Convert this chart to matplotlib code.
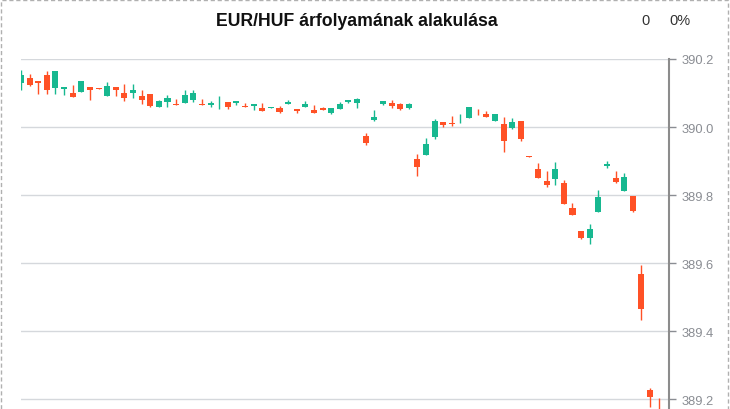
import numpy as np
import matplotlib
matplotlib.use('Agg')
import matplotlib.pyplot as plt
from matplotlib.patches import Rectangle

plt.rcParams['font.family'] = ['Liberation Sans', 'DejaVu Sans']

# OHLC adatok
opens = [390.130, 390.145, 390.136, 390.154, 390.114, 390.111, 390.101, 390.102, 390.119, 390.116,
         390.092, 390.119, 390.099, 390.099, 390.090, 390.098, 390.058, 390.075, 390.069, 390.072,
         390.081, 390.069, 390.065, 390.066, 390.074, 390.072, 390.063, 390.061, 390.057, 390.056,
         390.057, 390.068, 390.054, 390.058, 390.051, 390.057, 390.042, 390.054, 390.075, 390.072,
         389.974, 390.022, 390.069, 390.072, 390.069, 390.055, 389.907, 389.917, 389.972, 390.016,
         390.013, 390.013, 390.028, 390.039, 390.037, 390.019, 390.008, 389.998, 390.019, 389.916,
         389.877, 389.842, 389.848, 389.836, 389.763, 389.695, 389.674, 389.751, 389.887, 389.851,
         389.813, 389.798, 389.569, 389.227, 389.205]
highs = [390.169, 390.157, 390.136, 390.166, 390.164, 390.119, 390.124, 390.136, 390.119, 390.116,
         390.132, 390.119, 390.127, 390.127, 390.108, 390.098, 390.081, 390.095, 390.083, 390.108,
         390.108, 390.083, 390.078, 390.090, 390.074, 390.077, 390.072, 390.067, 390.072, 390.060,
         390.062, 390.080, 390.054, 390.077, 390.066, 390.060, 390.055, 390.074, 390.080, 390.086,
         389.983, 390.051, 390.077, 390.080, 390.072, 390.072, 389.922, 389.969, 390.024, 390.016,
         390.033, 390.039, 390.060, 390.054, 390.048, 390.037, 390.030, 390.028, 390.019, 389.916,
         389.895, 389.872, 389.898, 389.845, 389.777, 389.695, 389.716, 389.816, 389.901, 389.872,
         389.866, 389.798, 389.596, 389.233, 389.205]
lows = [390.110, 390.121, 390.098, 390.096, 390.096, 390.095, 390.087, 390.102, 390.080, 390.111,
        390.090, 390.091, 390.077, 390.084, 390.069, 390.060, 390.058, 390.058, 390.064, 390.072,
        390.075, 390.064, 390.060, 390.053, 390.054, 390.064, 390.058, 390.049, 390.046, 390.056,
        390.042, 390.068, 390.042, 390.058, 390.042, 390.049, 390.037, 390.052, 390.072, 390.057,
        389.948, 390.019, 390.064, 390.055, 390.049, 390.052, 389.855, 389.917, 389.964, 389.999,
        390.002, 390.011, 390.028, 390.036, 390.031, 390.019, 389.928, 389.995, 389.958, 389.911,
        389.851, 389.825, 389.830, 389.775, 389.743, 389.672, 389.657, 389.751, 389.880, 389.836,
        389.813, 389.751, 389.434, 389.178, 389.150]
closes = [390.152, 390.125, 390.129, 390.108, 390.164, 390.119, 390.087, 390.136, 390.108, 390.111,
          390.121, 390.108, 390.086, 390.108, 390.081, 390.063, 390.077, 390.084, 390.064, 390.095,
          390.101, 390.064, 390.072, 390.066, 390.058, 390.077, 390.058, 390.067, 390.046, 390.060,
          390.044, 390.074, 390.048, 390.069, 390.042, 390.049, 390.055, 390.067, 390.080, 390.083,
          389.954, 390.030, 390.077, 390.061, 390.052, 390.067, 389.884, 389.951, 390.019, 390.005,
          390.008, 390.013, 390.060, 390.0385, 390.031, 390.037, 389.958, 390.016, 389.964, 389.911,
          389.851, 389.831, 389.877, 389.775, 389.743, 389.674, 389.701, 389.795, 389.892, 389.839,
          389.854, 389.754, 389.466, 389.208, 389.2045]

yticks = [389.2, 389.4, 389.6, 389.8, 390.0, 390.2]

green = '#17b890'
red = '#ff5126'

fig = plt.figure(figsize=(7.3, 4.1), dpi=100)
ax = fig.add_axes([21 / 730, 0, 648 / 730, 350 / 410])

o = np.array(opens)
h = np.array(highs)
l = np.array(lows)
c = np.array(closes)
x = np.arange(len(o))
colors = [green if cc >= oo else red for oo, cc in zip(o, c)]

ax.vlines(x, l, h, colors=colors, linewidth=1.0, zorder=3)
ax.bar(x, np.abs(c - o), bottom=np.minimum(o, c), width=0.7, color=colors, zorder=3)

ax.set_xlim(0, 75.2)
ax.set_ylim(389.172, 390.2)
ax.set_xticks([])
ax.yaxis.tick_right()
ax.set_yticks(yticks)
ax.set_yticklabels([f'{v:.1f}' for v in yticks])
ax.tick_params(axis='y', colors='#8a8d93', labelsize=9.3, length=5, width=1, pad=4)
ax.grid(axis='y', color='#d5d8dc', linewidth=1)
for s in ['top', 'left', 'bottom']:
    ax.spines[s].set_visible(False)
ax.spines['right'].set_color('#8c8c8c')
ax.spines['right'].set_linewidth(1.5)

fig.text(357 / 730, 1 - 21 / 410, 'EUR/HUF árfolyamának alakulása', ha='center', va='center',
         fontsize=12.7, fontweight='bold', color='#111111')
fig.text(645 / 730, 1 - 21 / 410, '0', ha='center', va='center', fontsize=10.5, color='#333333')
fig.text(680 / 730, 1 - 21 / 410, '0%', ha='center', va='center', fontsize=10.5, color='#333333')

fig.patches.append(Rectangle((1 / 730, -0.05), 727 / 730, 1.05 - 1 / 410, transform=fig.transFigure,
                             fill=False, edgecolor='#b0b0b0', linestyle=(0, (3, 2)), linewidth=1))

fig.savefig('out.png', dpi=100)
